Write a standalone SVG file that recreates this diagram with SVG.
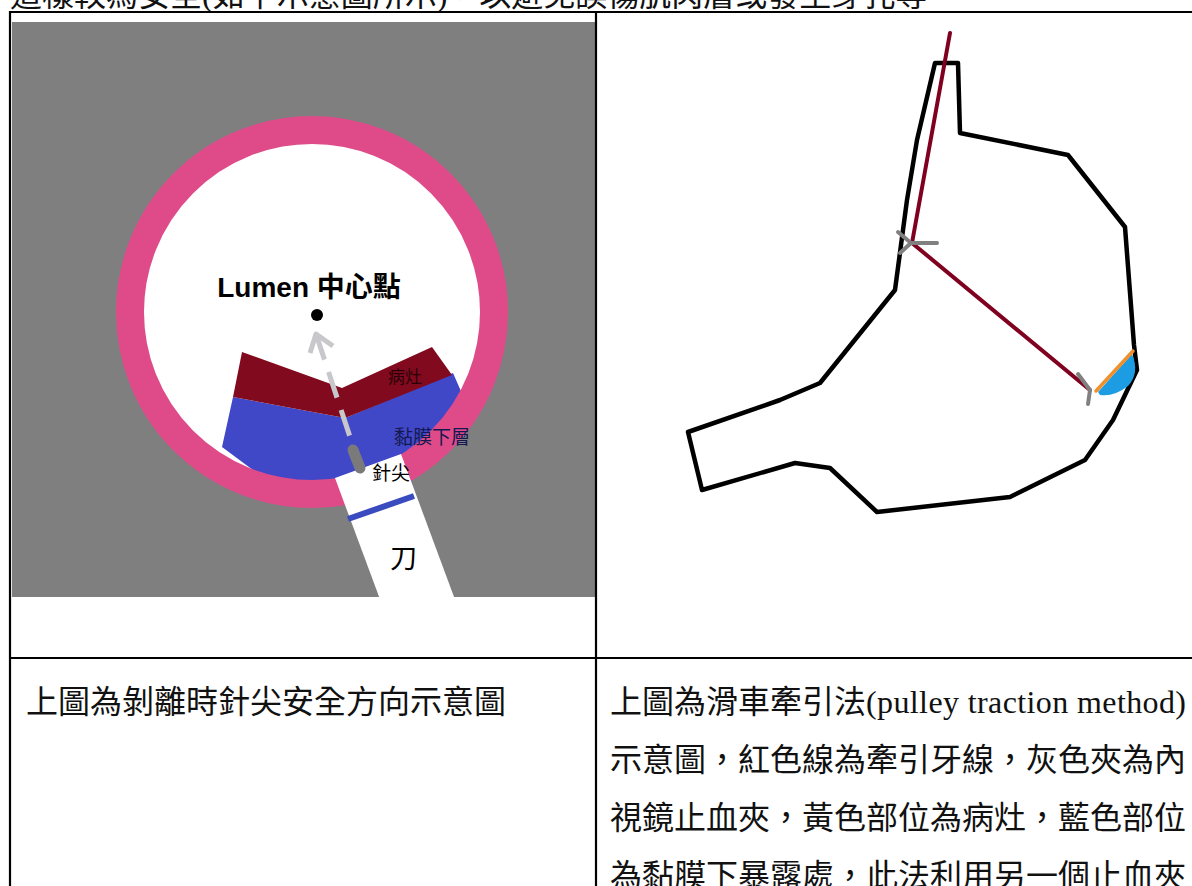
<svg xmlns="http://www.w3.org/2000/svg" width="1192" height="886" viewBox="0 0 1192 886">
  <style>
    .body { font-family: "Liberation Serif", "Noto Sans CJK TC", serif; font-size: 32px; fill: #111; }
    .grid { stroke: #000; stroke-width: 2.2; fill: none; }
    .outline { fill: none; stroke: #000; stroke-width: 4.5; stroke-linejoin: round; }
    .thread { fill: none; stroke: #800020; stroke-width: 4; stroke-linecap: round; stroke-linejoin: round; }
    .clip { fill: none; stroke: #808080; stroke-width: 4; stroke-linecap: round; }
    .lbl { font-family: "Liberation Sans", "Noto Sans CJK TC", sans-serif; }
  </style>
  <defs>
    <clipPath id="leftPanel">
      <rect x="12" y="22" width="583" height="575"/>
    </clipPath>
    <clipPath id="lumen">
      <circle cx="312" cy="312" r="180"/>
    </clipPath>
  </defs>

  <rect width="1192" height="886" fill="#fff"/>

  <!-- running text above the table -->
  <text class="body" x="10" y="6">這樣較為安全(如下示意圖所示)，以避免誤傷肌肉層或發生穿孔等</text>

  <!-- left picture: needle-tip direction during dissection -->
  <g id="left-figure" clip-path="url(#leftPanel)">
    <rect x="12" y="22" width="583" height="575" fill="#7f7f7f"/>
    <circle cx="312" cy="312" r="182" fill="#fff"/>
    <g clip-path="url(#lumen)">
      <polygon points="233,397 345,418 453,373 478,430 440,505 300,505 222,447" fill="#4048c8"/>
      <polygon points="242,352 342,388 432,347 452,375 345,418 233,397" fill="#820a1e"/>
    </g>
    <circle cx="312" cy="312" r="182" fill="none" stroke="#df4b89" stroke-width="28"/>
    <!-- knife -->
    <polygon points="335,478 401,454 470,640 404,664" fill="#fff"/>
    <line x1="348" y1="519" x2="414" y2="496" stroke="#3a4bbf" stroke-width="6"/>
    <line x1="353" y1="450" x2="360" y2="468" stroke="#7a7a7a" stroke-width="11" stroke-linecap="round"/>
  </g>

  <g id="lumen-center">
    <text class="lbl" x="309" y="297" font-size="28" font-weight="bold" text-anchor="middle" fill="#000">Lumen 中心點</text>
    <circle cx="317" cy="315" r="6" fill="#000"/>
  </g>

  <g id="direction-arrow" fill="none" stroke="#c8c8cc" stroke-width="5">
    <line x1="316" y1="334" x2="353" y2="446" stroke-dasharray="27 13"/>
    <polyline points="310,353 316,334 333,346" stroke-linejoin="round"/>
  </g>

  <g id="left-labels" class="lbl">
    <text x="388" y="383" font-size="17" fill="#2a0008">病灶</text>
    <text x="394" y="444" font-size="19" fill="#141850">黏膜下層</text>
    <text x="372" y="480" font-size="19" fill="#000">針尖</text>
    <text x="390" y="568" font-size="27" fill="#000">刀</text>
  </g>

  <!-- right picture: pulley traction -->
  <g id="stomach">
    <path class="outline" d="M935,63 L958,63 L960,133 L1068,155 L1125,227 L1134,345 L1137,370 L1113,420 L1085,460 L1010,497 L877,512 L830,468 L795,463 L702,490 L688,432 L780,400 L820,383 L895,290 L907,200 L917,140 Z"/>
  </g>

  <g id="lesion">
    <path d="M1098,392 L1132,354 Q1140,373 1128,386 Q1114,397 1100,395 Z" fill="#1b9ce3"/>
    <line x1="1096" y1="391" x2="1133" y2="351" stroke="#f0902a" stroke-width="3.5" stroke-linecap="round"/>
  </g>

  <g id="connectors">
    <polyline class="thread" points="950,33 912,243 1090,390"/>
  </g>

  <g id="clip-upper">
    <polyline class="clip" points="898,232 911,243 937,243"/>
    <line class="clip" x1="911" y1="243" x2="900" y2="253"/>
  </g>
  <g id="clip-lower">
    <polyline class="clip" points="1078,374 1090,390 1088,404"/>
  </g>

  <!-- table rules -->
  <g id="table">
    <line class="grid" x1="10" y1="12" x2="1192" y2="12"/>
    <line class="grid" x1="10" y1="658" x2="1192" y2="658"/>
    <line class="grid" x1="10" y1="11" x2="10" y2="886"/>
    <line class="grid" x1="596" y1="11" x2="596" y2="886"/>
  </g>

  <g id="captions">
    <text class="body" x="26" y="713">上圖為剝離時針尖安全方向示意圖</text>
    <text class="body" x="610" y="713">上圖為滑車牽引法</text>
    <text class="body" x="866" y="713" textLength="320" lengthAdjust="spacing">(pulley traction method)</text>
    <text class="body" x="610" y="771">示意圖，紅色線為牽引牙線，灰色夾為內</text>
    <text class="body" x="610" y="829">視鏡止血夾，黃色部位為病灶，藍色部位</text>
    <text class="body" x="610" y="887">為黏膜下暴露處，此法利用另一個止血夾</text>
  </g>
</svg>
